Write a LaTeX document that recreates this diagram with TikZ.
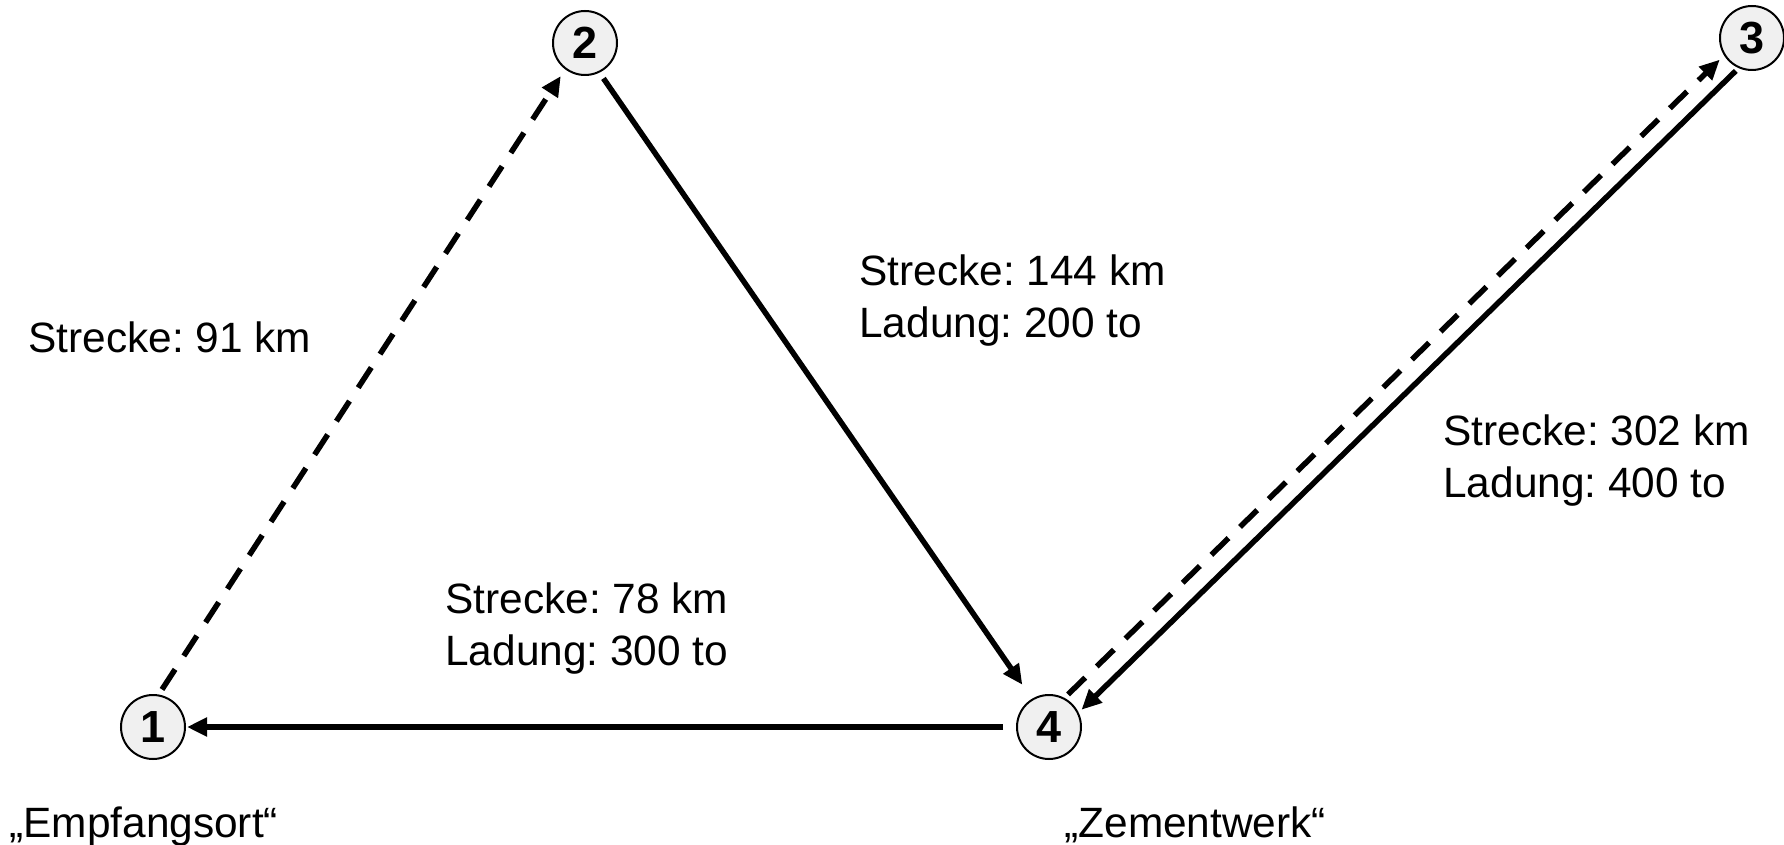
\documentclass[tikz,border=0pt]{standalone}
\usepackage{fontspec}
\setmainfont{Liberation Sans}
\usetikzlibrary{arrows.meta}
\definecolor{nodegray}{RGB}{240,240,240}
\frenchspacing

\begin{document}
\begin{tikzpicture}[x=0.5pt, y=-0.5pt,
  station/.style={draw, circle, line width=1pt, fill=nodegray, minimum size=32pt, inner sep=0pt, font=\fontsize{22.5}{24}\selectfont\bfseries},
  lbl/.style={anchor=base west, inner sep=0pt, align=left, font=\fontsize{21.2}{25.8}\selectfont},
  tour/.style={-{Triangle[length=10pt,width=9pt]}, line width=2.75pt},
  empty/.style={tour, dash pattern=on 12pt off 8pt}
]
  \useasboundingbox (0,0) rectangle (1784,845);

  % Orte
  \node[station] (n1) at (153,727)  {1};
  \node[station] (n2) at (585,43)   {2};
  \node[station] (n3) at (1752,38)  {3};
  \node[station] (n4) at (1049,727) {4};

  \node[lbl] (o1) at (9,837)    {„Empfangsort“};
  \node[lbl] (o4) at (1064,837) {„Zementwerk“};

  % Fahrten
  \draw[empty, shorten <=3pt, shorten >=4pt]   (n1.80)  -- (n2.233);
  \draw[tour, shorten <=3.5pt, shorten >=8.5pt] (n2.296) -- (n4.121);
  \draw[tour, shorten <=6.5pt, shorten >=0.5pt] (n4.180) -- (n1.0);
  \draw[empty, shorten <=2.5pt, shorten >=3pt] (n4.62)  -- (n3.212);
  \draw[tour, shorten <=2pt, shorten >=2pt]     (n3.246) -- (n4.26);

  % Beschriftung (Basislinie der letzten Zeile)
  \node[lbl] (l12) at (28,353)   {Strecke: 91 km};
  \node[lbl] (l24) at (859,337)  {Strecke: 144 km\\Ladung: 200 to};
  \node[lbl] (l34) at (1443,497) {Strecke: 302 km\\Ladung: 400 to};
  \node[lbl] (l41) at (445,665)  {Strecke: 78 km\\Ladung: 300 to};
\end{tikzpicture}
\end{document}
